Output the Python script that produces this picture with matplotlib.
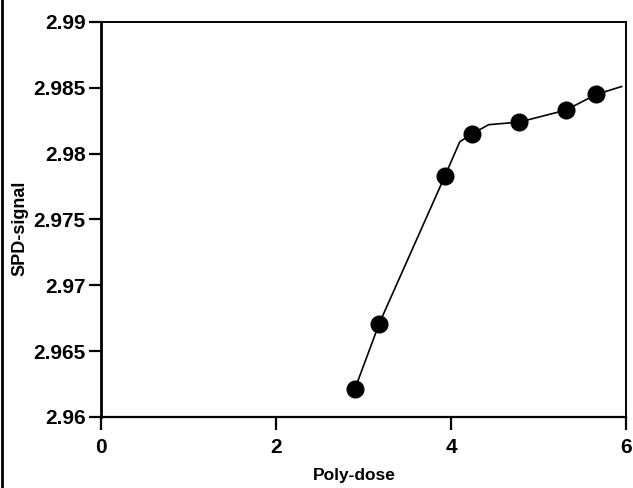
import matplotlib
matplotlib.use("Agg")
import matplotlib.pyplot as plt
from matplotlib.lines import Line2D
from matplotlib import font_manager

# data
dose = [2.9, 3.18, 3.93, 4.24, 4.78, 5.31, 5.66]
signal = [2.9621, 2.9671, 2.9783, 2.9815, 2.9824, 2.9833, 2.9845]
# fitted curve through the points
curve_x = [2.9, 3.18, 3.93, 4.10, 4.24, 4.43, 4.78, 5.31, 5.66, 5.95]
curve_y = [2.9621, 2.9671, 2.9783, 2.9809, 2.9815, 2.9822, 2.9824, 2.9833, 2.9845, 2.9851]
xticks = [0, 2, 4, 6]
yticks = [2.96, 2.965, 2.97, 2.975, 2.98, 2.985, 2.99]
ytick_labels = ["2.96", "2.965", "2.97", "2.975", "2.98", "2.985", "2.99"]

names = {f.name for f in font_manager.fontManager.ttflist}
fam = ["Liberation Sans Narrow"] if "Liberation Sans Narrow" in names else ["Liberation Sans"]
plt.rcParams['font.family'] = fam + ["DejaVu Sans"]
plt.rcParams['font.weight'] = 'bold'

fig = plt.figure(figsize=(6.33, 4.88), dpi=100)
ax = fig.add_axes([101/633, 1-417/488, (626-101)/633, (417-22)/488])

ax.plot(curve_x, curve_y, color='black', lw=1.2, zorder=2)
ax.plot(dose, signal, 'o', color='black', ms=12, zorder=3)

ax.set_xlim(0, 6)
ax.set_ylim(2.96, 2.99)
ax.set_xticks(xticks)
ax.set_xticklabels([str(t) for t in xticks])
ax.set_yticks(yticks)
ax.set_yticklabels(ytick_labels)
ax.tick_params(axis='both', direction='out', length=9, width=1.6, labelsize=15, colors='black')
ax.tick_params(axis='y', pad=2)
ax.tick_params(axis='x', pad=6)
for s in ax.spines.values():
    s.set_linewidth(1.4)
ax.spines['left'].set_linewidth(2)
ax.spines['bottom'].set_linewidth(1.6)

ax.set_xlabel("Poly-dose", fontsize=12.5, fontweight='bold')
ax.xaxis.set_label_coords((354-101)/525, -(468-417)/395)
ax.set_ylabel("SPD-signal", fontsize=13, fontweight='bold')
ax.yaxis.set_label_coords(-(101-28)/525, (417-228)/395)

fig.add_artist(Line2D([2/633, 2/633], [0, 1], color='black', lw=2, transform=fig.transFigure))

fig.savefig("out.png", dpi=100)
